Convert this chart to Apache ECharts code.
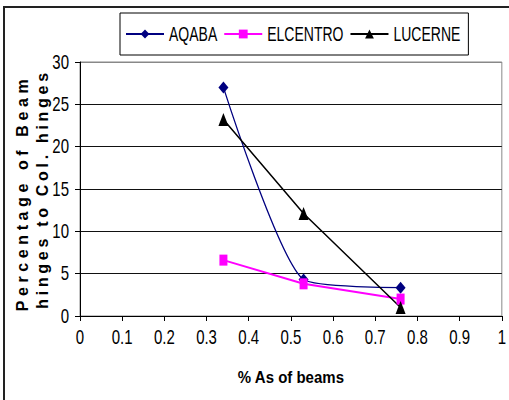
<!DOCTYPE html>
<html>
<head>
<meta charset="utf-8">
<script src="https://cdn.jsdelivr.net/npm/echarts@6/dist/echarts.min.js"></script>
<style>html,body{margin:0;padding:0;background:#fff;}#c{width:509px;height:400px;}</style>
</head>
<body>
<div id="c"></div>
<script>
var seriesNames = ['AQABA', 'ELCENTRO', 'LUCERNE'];
var xValues = [0.34, 0.53, 0.76];
var aqaba = [27.0, 4.3, 3.35];
var elcentro = [6.6, 3.8, 2.0];
var lucerne = [23.2, 12.1, 1.0];
var xTicks = [0, 0.1, 0.2, 0.3, 0.4, 0.5, 0.6, 0.7, 0.8, 0.9, 1];
var yTicks = [0, 5, 10, 15, 20, 25, 30];
var xTitle = '% As of beams';
var yTitle1 = 'Percentage of Beam';
var yTitle2 = 'hinges to Col. hinges';

function pairs(vals) { return xValues.map(function (x, i) { return [x, vals[i]]; }); }

var sans = '"Liberation Sans", Arial, sans-serif';
var chart = echarts.init(document.getElementById('c'), null, { renderer: 'svg' });
chart.setOption({
  animation: false,
  backgroundColor: '#fff',
  grid: { left: 80, right: 6, top: 62, bottom: 84, show: true, borderColor: '#888', borderWidth: 1, backgroundColor: 'transparent' },
  legend: {
    left: 120, top: 13,
    padding: [14, 8, 14, 5],
    borderColor: '#000', borderWidth: 1,
    itemWidth: 38, itemHeight: 11, itemGap: 6,
    textStyle: { fontFamily: sans, fontSize: 14, color: '#000' },
    data: seriesNames
  },
  xAxis: {
    type: 'value', min: xTicks[0], max: xTicks[xTicks.length - 1], interval: 0.1,
    axisLine: { lineStyle: { color: '#000', width: 1 } },
    axisTick: { show: true, length: 5, lineStyle: { color: '#000' } },
    axisLabel: { fontFamily: sans, fontSize: 15, color: '#000', margin: 14 },
    splitLine: { show: false },
    name: xTitle, nameLocation: 'middle', nameGap: 53,
    nameTextStyle: { fontFamily: sans, fontWeight: 'bold', fontSize: 15, color: '#000' }
  },
  yAxis: {
    type: 'value', min: yTicks[0], max: yTicks[yTicks.length - 1], interval: 5,
    axisLine: { show: true, lineStyle: { color: '#000', width: 1 } },
    axisTick: { show: true, length: 5, lineStyle: { color: '#000' } },
    axisLabel: { fontFamily: sans, fontSize: 15, color: '#000', margin: 11 },
    splitLine: { show: true, lineStyle: { color: ['#000', '#111', '#111', '#111', '#111', '#111', '#888'], width: 1 } }
  },
  graphic: [
    { type: 'rect', shape: { x: 4, y: 7, width: 700, height: 600 }, style: { fill: 'none', stroke: '#222', lineWidth: 2 }, silent: true },
    { type: 'text', id: 'yt1', x: 22, y: 193, rotation: Math.PI / 2,
      style: { text: yTitle1, fontFamily: sans, fontWeight: 'bold', fontSize: 16, fill: '#000', align: 'center', verticalAlign: 'middle' } },
    { type: 'text', id: 'yt2', x: 42, y: 189, rotation: Math.PI / 2,
      style: { text: yTitle2, fontFamily: sans, fontWeight: 'bold', fontSize: 16, fill: '#000', align: 'center', verticalAlign: 'middle' } }
  ],
  series: [
    { name: seriesNames[0], type: 'line', data: pairs(aqaba), smooth: 0.2,
      symbol: 'diamond', symbolSize: [10, 12], itemStyle: { color: '#000080' },
      lineStyle: { color: '#000080', width: 1.3 } },
    { name: seriesNames[1], type: 'line', data: pairs(elcentro),
      symbol: 'rect', symbolSize: [8, 11], itemStyle: { color: '#ff00ff' },
      lineStyle: { color: '#ff00ff', width: 2 } },
    { name: seriesNames[2], type: 'line', data: pairs(lucerne),
      symbol: 'triangle', symbolSize: [10, 13], itemStyle: { color: '#000' },
      lineStyle: { color: '#000', width: 1.5 } }
  ]
});

// Reference text is vertically stretched (narrow, tall glyphs); mimic that.
var stretchSet = {};
xTicks.concat(yTicks).forEach(function (v) { stretchSet[String(v)] = 1.32; });
seriesNames.forEach(function (n) { stretchSet[n] = 1.42; });
stretchSet[xTitle] = 1.15;
var texts = document.querySelectorAll('#c text');
texts.forEach(function (t) {
  var s = t.textContent;
  if (s === yTitle1) { t.setAttribute('letter-spacing', '4.6'); return; }
  if (s === yTitle2) { t.setAttribute('letter-spacing', '3.7'); return; }
  var k = stretchSet[s];
  if (!k) return;
  var x = parseFloat(t.getAttribute('x') || '0');
  var y = parseFloat(t.getAttribute('y') || '0');
  var tr = t.getAttribute('transform') || '';
  t.setAttribute('transform', tr + ' translate(' + x + ' ' + y + ') scale(1 ' + k + ') translate(' + (-x) + ' ' + (-y) + ')');
});
</script>
</body>
</html>
